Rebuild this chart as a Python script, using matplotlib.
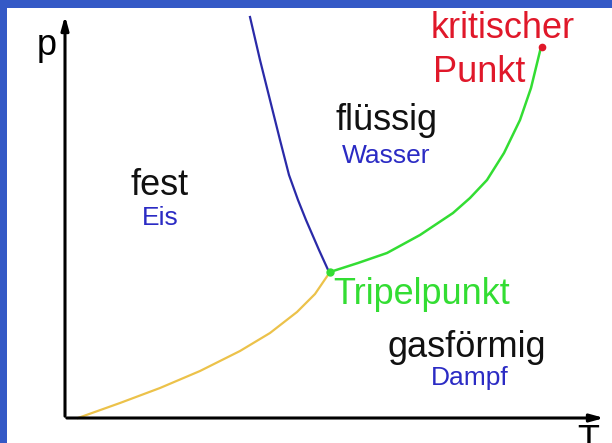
"""
    phase diagram of water (p-T)
"""

import matplotlib.pyplot as plt
from matplotlib.patches import Rectangle

plt.rcParams['font.family'] = ['Liberation Sans', 'DejaVu Sans']

# curves (T, p in picture units, origin at the axes corner)
subl_T = [78, 120, 160, 200, 240, 270, 297, 315, 330]
subl_p = [25, 40, 55, 72, 92, 110, 131, 149, 171]

melt_T = [250, 260, 270, 280, 289, 298, 306, 319, 329]
melt_p = [426, 383, 343, 303, 268, 243, 223, 193, 171]

vap_T = [330, 358, 387, 420, 453, 470, 487, 504, 520, 531, 541]
vap_p = [171, 180, 190, 208, 230, 245, 263, 290, 323, 355, 396]

triple = (330, 171)
critical = (542, 396)

# region labels: text, x, baseline, size, colour
labels = [
    ('fest', 160, 248, 26, '#111111'),
    ('Eis', 160, 218, 19, '#2b2bc4'),
    ('flüssig', 387, 313, 26, '#111111'),
    ('Wasser', 386, 280, 19, '#2b2bc4'),
    ('gasförmig', 467, 86, 26, '#111111'),
    ('Dampf', 470, 58, 19, '#2b2bc4'),
]

fig = plt.figure(figsize=(6.12, 4.43), dpi=100)
ax = fig.add_axes([0, 0, 1, 1])
ax.set_xlim(0, 612)
ax.set_ylim(0, 443)
ax.axis('off')
fig.patch.set_facecolor('#3459c6')
ax.add_patch(Rectangle((7, 0), 605, 435, facecolor='white', edgecolor='none', zorder=0))

# axes with arrows
ax.annotate('', xy=(65, 430), xytext=(65, 24),
            arrowprops=dict(arrowstyle='-|>,head_length=0.8,head_width=0.22', lw=2.2, color='black'))
ax.annotate('', xy=(607, 25), xytext=(64, 25),
            arrowprops=dict(arrowstyle='-|>,head_length=0.8,head_width=0.22', lw=2.2, color='black'))
ax.text(47, 388, 'p', fontsize=26, ha='center', va='baseline')
ax.text(588, 19, 'T', fontsize=26, ha='center', va='top')

ax.plot(subl_T, subl_p, color='#ecc24a', lw=1.6)
ax.plot(melt_T, melt_p, color='#2a2aa8', lw=1.6)
ax.plot(vap_T, vap_p, color='#33dd33', lw=1.8)
ax.plot(*triple, 'o', color='#33dd33', ms=5)
ax.plot(*critical, 'o', color='#e0182a', ms=4.5)

for txt, x, y, s, c in labels:
    ax.text(x, y, txt, fontsize=s, color=c, ha='center', va='baseline')

ax.text(431, 405, 'kritischer', fontsize=26, color='#e0182a', ha='left', va='baseline')
ax.text(433, 361, 'Punkt', fontsize=26, color='#e0182a', ha='left', va='baseline')
ax.text(333, 139, 'Tripelpunkt', fontsize=26, color='#33dd33', ha='left', va='baseline')

plt.savefig('out.png', dpi=100, facecolor=fig.get_facecolor())
plt.close()
